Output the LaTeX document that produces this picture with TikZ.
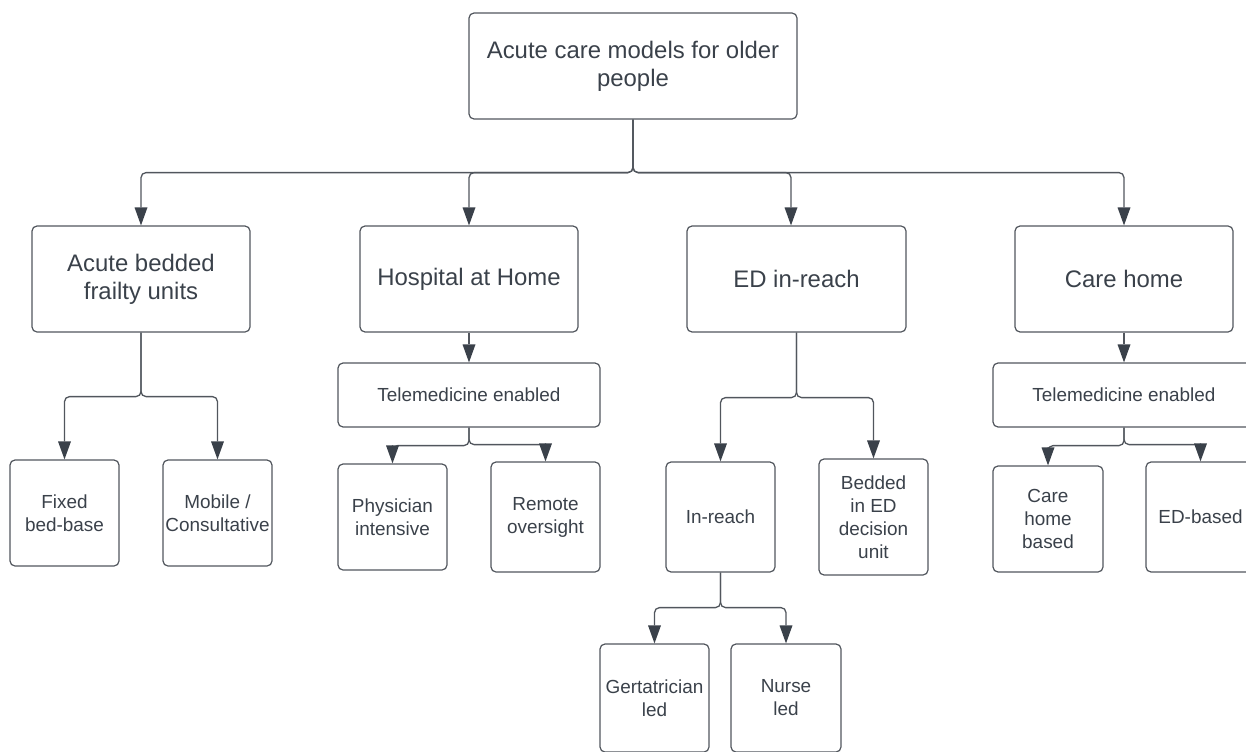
\documentclass[tikz,border=0pt]{standalone}
\usepackage{fontspec}
\setmainfont{Liberation Sans}
\usetikzlibrary{arrows.meta}
\definecolor{txt}{HTML}{3A414A}
\definecolor{ln}{HTML}{51565D}
\begin{document}
\begin{tikzpicture}[x=1bp,y=-1bp,
  box/.style={draw=ln,line width=1.2bp,rounded corners=5bp,text=txt,align=center,inner sep=0pt,font=\fontsize{19}{23}\selectfont},
  big/.style={font=\fontsize{24}{28}\selectfont},
  sq/.style={minimum width=109bp,minimum height=106bp},
  tip/.tip={Triangle[length=18bp,width=13bp,fill=txt,color=txt,line width=0pt]},
  conn/.style={draw=ln,line width=1.3bp,rounded corners=5bp,-tip}]
\useasboundingbox (0,0) rectangle (1246,752);
% root
\node[box,big,minimum width=328bp,minimum height=106bp] (root) at (633,66) {Acute care models for older\\people};
% level 1
\node[box,big,minimum width=218bp,minimum height=106bp] (A) at (141,279) {Acute bedded\\frailty units};
\node[box,big,minimum width=218bp,minimum height=106bp] (H) at (469,279) {Hospital at Home};
\node[box,big,minimum width=219bp,minimum height=106bp] (E) at (796.5,279) {ED in-reach};
\node[box,big,minimum width=218bp,minimum height=106bp] (C) at (1124,279) {Care home};
% A children
\node[box,sq] (F) at (64.5,513) {Fixed\\bed-base};
\node[box,sq] (M) at (217.5,513) {Mobile /\\Consultative};
% H children
\node[box,minimum width=262bp,minimum height=64bp] (HT) at (469,395) {Telemedicine enabled};
\node[box,sq] (P) at (392.5,517) {Physician\\intensive};
\node[box,sq,minimum height=110bp] (R) at (545.5,517) {Remote\\oversight};
% E children
\node[box,sq,minimum height=110bp] (IR) at (720.5,517) {In-reach};
\node[box,sq,minimum height=116bp] (B) at (873.5,517) {Bedded\\in ED\\decision\\unit};
\node[box,sq,minimum height=108bp] (G) at (654.5,698) {Gertatrician\\led};
\node[box,sq,minimum width=110bp,minimum height=108bp] (N) at (786,698) {Nurse\\led};
% C children
\node[box,minimum width=262bp,minimum height=64bp] (CT) at (1124,395) {Telemedicine enabled};
\node[box,sq,minimum width=110bp] (CH) at (1048,519) {Care\\home\\based};
\node[box,sq,minimum height=110bp] (EB) at (1200.5,517) {ED-based};
% connectors
\draw[conn] (root.south) -- ++(0,53) -| (A.north);
\draw[conn] (root.south) -- ++(0,53) -| (H.north);
\draw[conn] (root.south) -- ++(0,53) -| ([xshift=-5.5bp]E.north);
\draw[conn] (root.south) -- ++(0,53) -| (C.north);
\draw[conn] (A.south) -- ++(0,64) -| (F.north);
\draw[conn] (A.south) -- ++(0,64) -| (M.north);
\draw[conn] (H.south) -- (HT.north);
\draw[conn] (HT.south) -- ++(0,18) -| (P.north);
\draw[conn] (HT.south) -- ++(0,17) -| (R.north);
\draw[conn] (E.south) -- ++(0,65) -| (IR.north);
\draw[conn] (E.south) -- ++(0,65) -| (B.north);
\draw[conn] (IR.south) -- ++(0,35) -| (G.north);
\draw[conn] (IR.south) -- ++(0,35) -| (N.north);
\draw[conn] (C.south) -- (CT.north);
\draw[conn] (CT.south) -- ++(0,18) -| (CH.north);
\draw[conn] (CT.south) -- ++(0,17) -| (EB.north);
\end{tikzpicture}
\end{document}
